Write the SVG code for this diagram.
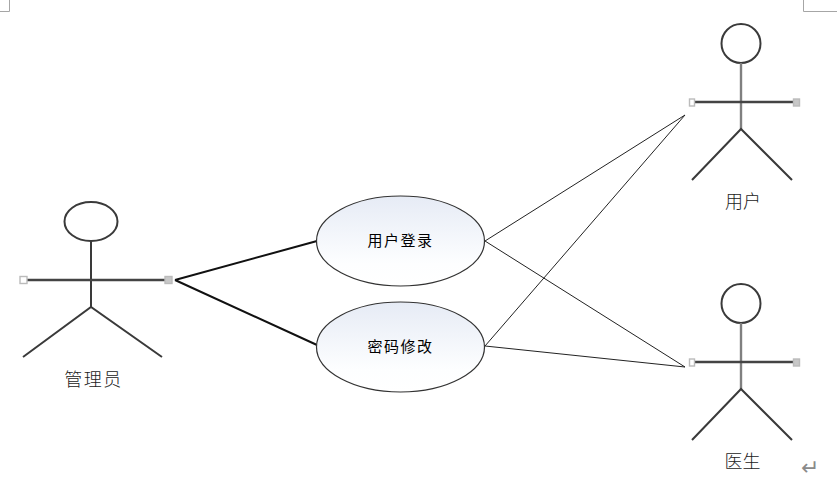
<svg xmlns="http://www.w3.org/2000/svg" width="837" height="478" viewBox="0 0 837 478">
<style>
text{font-family:"Noto Sans CJK SC","Liberation Sans",sans-serif;text-anchor:middle;dominant-baseline:central}
.lbl{font-size:18px;fill:#222;font-weight:300}
.uc{font-size:15px;fill:#000;letter-spacing:1.500px}
.body{fill:none;stroke:#3a3a3a;stroke-width:2}
.arm{fill:none;stroke:#444;stroke-width:2.400}
.spine{fill:none;stroke:#808080;stroke-width:2.400}
.h0{fill:#fff;stroke:#bbb;stroke-width:1.400}
.h1{fill:#c8c8c8;stroke:#bbb;stroke-width:1.400}
.case{fill:url(#g);stroke:#333;stroke-width:1.200}
.thin{stroke:#222;stroke-width:1;fill:none}
.thick{stroke:#111;stroke-width:2;fill:none}
.crop{stroke:#a6a6a6;stroke-width:1;fill:none}
</style>
<defs>
<linearGradient id="g" x1="0" y1="0" x2="0" y2="1">
<stop offset="0" stop-color="#e6ebf5"/>
<stop offset="0.750" stop-color="#fdfeff"/>
<stop offset="1" stop-color="#ffffff"/>
</linearGradient>
</defs>
<rect width="837" height="478" fill="#fff"/>
<g id="page-marks">
<path class="crop" d="M0 11.500H9.500V0M803.500 0V11.500H837"/>
<text x="810" y="467" font-size="22" fill="#8a8a8a" style="font-family:'DejaVu Sans',sans-serif;font-weight:200">↵</text>
</g>
<g id="connectors">
<path class="thick" d="M175 280L317 241M175 280L317 345"/>
<path class="thin" d="M485 241L685 115M485 241L685 367M485 346L685 115M485 346L685 367"/>
</g>
<g id="actor-admin">
<ellipse class="body" cx="91" cy="221.500" rx="26.500" ry="19.500"/>
<path class="body" d="M91 241V307M23 357L91 307L162 357"/>
<path class="arm" d="M23.500 280H168.500"/>
<rect class="h0" x="20" y="276.500" width="7" height="7"/>
<rect class="h1" x="165" y="276.500" width="7" height="7"/>
<text class="lbl" x="93.500" y="378" letter-spacing="1.500">管理员</text>
</g>
<g id="usecase-login">
<ellipse class="case" cx="400.500" cy="241" rx="84" ry="45"/>
<text class="uc" x="400.500" y="239">用户登录</text>
</g>
<g id="usecase-password">
<ellipse class="case" cx="400.500" cy="347" rx="84" ry="45"/>
<text class="uc" x="400.500" y="345">密码修改</text>
</g>
<g id="actor-user">
<circle class="body" cx="741" cy="43.500" r="19.500"/>
<path class="spine" d="M741 63V129"/>
<path class="body" d="M692 180L741 129L792 180"/>
<path class="arm" d="M692 102H797"/>
<rect class="h0" x="689.500" y="99" width="5" height="7"/>
<rect class="h1" x="793.500" y="99" width="6" height="7"/>
<text class="lbl" x="743" y="200">用户</text>
</g>
<g id="actor-doctor">
<circle class="body" cx="741" cy="303.500" r="19.500"/>
<path class="spine" d="M741 323V389"/>
<path class="body" d="M692 440L741 389L792 440"/>
<path class="arm" d="M692 362H797"/>
<rect class="h0" x="689.500" y="359" width="5" height="7"/>
<rect class="h1" x="793.500" y="359" width="6" height="7"/>
<text class="lbl" x="742.500" y="460">医生</text>
</g>
</svg>
